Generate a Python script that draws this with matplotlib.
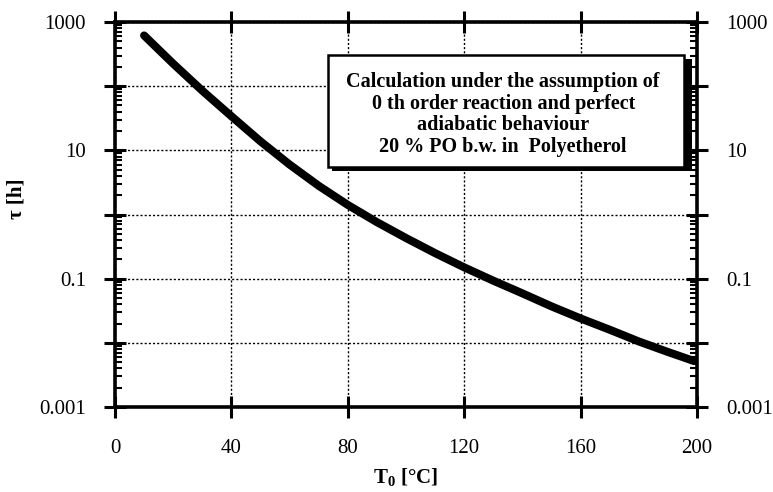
import matplotlib
matplotlib.use("Agg")
import matplotlib.pyplot as plt
from matplotlib.patches import Rectangle
from matplotlib.ticker import LogLocator, NullFormatter
import numpy as np

# curve: start temperature T0 [°C] vs. time tau [h]
T0 = [10, 20, 30, 40, 50, 60, 70, 80, 90, 100, 110, 120, 130, 140, 150,
      160, 170, 180, 190, 199]
tau = [617, 224, 85, 34, 13.8, 6.0, 2.8, 1.41, 0.76, 0.43, 0.25, 0.15,
       0.093, 0.059, 0.037, 0.024, 0.016, 0.0105, 0.0072, 0.0052]

x_ticks = [0, 40, 80, 120, 160, 200]
y_decades = [0.001, 0.01, 0.1, 1, 10, 100, 1000]
y_labels = ["0.001", "", "0.1", "", "10", "", "1000"]
box_text = ("Calculation under the assumption of\n"
            "0 th order reaction and perfect\n"
            "adiabatic behaviour\n"
            "20 % PO b.w. in  Polyetherol")

plt.rcParams['font.family'] = ['Liberation Serif', 'DejaVu Serif']

fig = plt.figure(figsize=(7.73, 4.92), dpi=100)
ax = fig.add_axes([115 / 773, 85 / 492, 582 / 773, 385 / 492])

ax.plot(T0, tau, color='black', lw=5.8, solid_capstyle='round', zorder=3)

ax.set_yscale('log')
ax.set_xlim(0, 200)
ax.set_ylim(0.001, 1000)

ax.set_yticks(y_decades)
ax.set_yticklabels(y_labels)
ax.yaxis.set_minor_locator(LogLocator(base=10, subs=np.arange(2, 10)))
ax.yaxis.set_minor_formatter(NullFormatter())
ax.set_xticks(x_ticks)
ax.grid(True, which='major', color='black', ls=(0, (1.5, 1.5)), lw=1.0)

ax.tick_params(which='major', direction='inout', length=16, width=2.2,
               top=True, right=True, labelright=True, labelsize=15)
ax.tick_params(axis='y', which='major', pad=13)
ax.tick_params(axis='x', which='major', pad=15)
ax.tick_params(which='minor', direction='in', length=5, width=1.5,
               left=True, right=True)
for s in ax.spines.values():
    s.set_linewidth(2.6)

ax.set_xlabel(r"T$_\mathregular{0}$ [°C]", fontsize=15, fontweight='bold')
ax.xaxis.set_label_coords(0.5, -0.155)
ax.set_ylabel("τ [h]", fontsize=15, fontweight='bold')
ax.yaxis.set_label_coords(-0.152, 0.54)

# text box with a heavy shadow on the right and bottom
ax.add_patch(Rectangle((0.372, 0.612), 0.619, 0.291, transform=ax.transAxes,
                       facecolor='black', edgecolor='none', zorder=4,
                       clip_on=False))
ax.add_patch(Rectangle((0.366, 0.623), 0.612, 0.291, transform=ax.transAxes,
                       facecolor='white', edgecolor='black', lw=1.8,
                       zorder=5, clip_on=False))
ax.text(0.667, 0.76, box_text, transform=ax.transAxes, ha='center',
        va='center', fontsize=14.5, fontweight='bold', linespacing=1.12,
        zorder=6)

fig.savefig("out.png", dpi=100)
